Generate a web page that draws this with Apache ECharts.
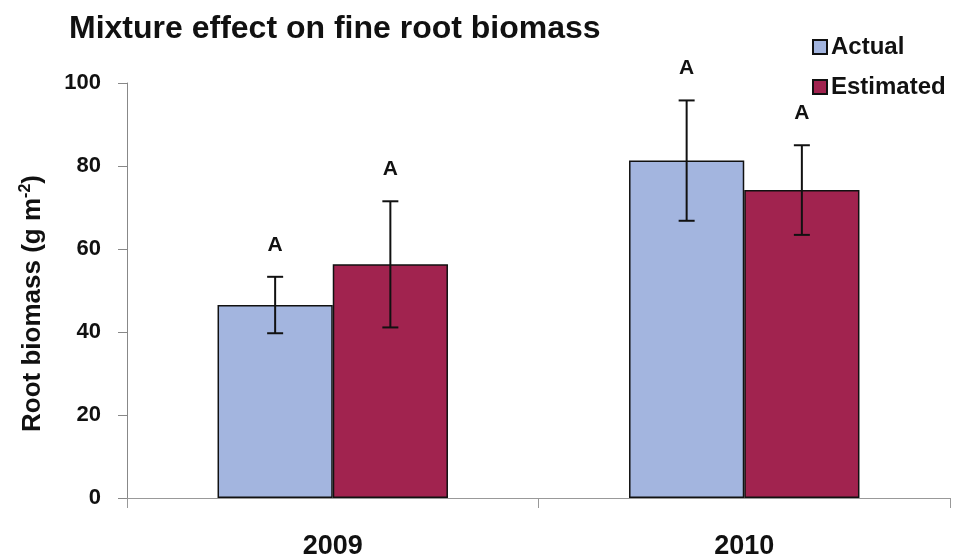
<!DOCTYPE html>
<html>
<head>
<meta charset="utf-8">
<script src="https://cdn.jsdelivr.net/npm/echarts@6/dist/echarts.min.js"></script>
<style>
  html, body { margin: 0; padding: 0; background: #fff; }
  #chart { width: 959px; height: 560px; }
</style>
</head>
<body>
<div id="chart"></div>
<script>
// Fine root biomass, actual vs. estimated, by year
const years = ['2009', '2010'];
const actual = [46.5, 81.3];
const estimated = [56.3, 74.2];
// standard errors
const actualErr = [6.8, 14.5];
const estimatedErr = [15.2, 10.8];
// significance letters
const actualLetters = ['A', 'A'];
const estimatedLetters = ['A', 'A'];
const yTicks = [0, 20, 40, 60, 80, 100];

const FONT = '"Liberation Sans", Arial, Helvetica, sans-serif';
const BAR_W = 0.28;

// one row per bar: [category, low, high, bar slot (0 left / 1 right), letter]
const errRows = [];
years.forEach((y, i) => {
  errRows.push([i, actual[i] - actualErr[i], actual[i] + actualErr[i], 0, actualLetters[i]]);
  errRows.push([i, estimated[i] - estimatedErr[i], estimated[i] + estimatedErr[i], 1, estimatedLetters[i]]);
});

function renderErr(params, api) {
  const cat = api.value(0);
  const slot = api.value(3);
  const band = api.size([1, 0])[0];
  const bw = band * BAR_W;
  const center = api.coord([cat, 0])[0];
  const x = center + (slot === 0 ? -bw / 2 : bw / 2);
  const lo = api.coord([cat, api.value(1)])[1];
  const hi = api.coord([cat, api.value(2)])[1];
  const cap = 8;
  const st = { stroke: '#111', lineWidth: 2 };
  return {
    type: 'group',
    children: [
      { type: 'line', shape: { x1: x, y1: lo, x2: x, y2: hi }, style: st },
      { type: 'line', shape: { x1: x - cap, y1: hi, x2: x + cap, y2: hi }, style: st },
      { type: 'line', shape: { x1: x - cap, y1: lo, x2: x + cap, y2: lo }, style: st },
      { type: 'text', style: {
          text: errRows[params.dataIndex][4], x: x, y: hi - 32,
          align: 'center', verticalAlign: 'middle',
          font: 'bold 21px ' + FONT, fill: '#111' } }
    ]
  };
}

const chart = echarts.init(document.getElementById('chart'));
chart.setOption({
  animation: false,
  backgroundColor: '#fff',
  title: {
    text: 'Mixture effect on fine root biomass',
    left: 64, top: 8,
    textStyle: { fontFamily: FONT, fontSize: 32, fontWeight: 'bold', color: '#111' }
  },
  legend: {
    orient: 'vertical',
    left: 807, top: 30,
    icon: 'rect',
    itemWidth: 14, itemHeight: 14, itemGap: 16,
    data: ['Actual', 'Estimated'],
    textStyle: { fontFamily: FONT, fontSize: 24, fontWeight: 'bold', color: '#111', padding: [0, 0, 0, -1] }
  },
  grid: { left: 127, right: 9, top: 83, bottom: 58 },
  xAxis: {
    type: 'category',
    data: years,
    axisLine: { lineStyle: { color: '#999', width: 1 } },
    axisTick: { show: true, length: 10, lineStyle: { color: '#999' } },
    axisLabel: { fontFamily: FONT, fontSize: 27, fontWeight: 'bold', color: '#111', margin: 35 }
  },
  yAxis: {
    type: 'value',
    min: yTicks[0], max: yTicks[yTicks.length - 1], interval: yTicks[1] - yTicks[0],
    name: '{a|Root biomass (g m}{s|-2}{a|)}',
    nameLocation: 'middle', nameGap: 80,
    nameTextStyle: {
      padding: [0, 26, 0, 0],
      rich: {
        a: { fontFamily: FONT, fontSize: 26, fontWeight: 'bold', color: '#111' },
        s: { fontFamily: FONT, fontSize: 16, fontWeight: 'bold', color: '#111', verticalAlign: 'top', padding: [0, 0, 13, 0] }
      }
    },
    axisLine: { show: true, lineStyle: { color: '#888', width: 1 } },
    axisTick: { show: true, length: 9, lineStyle: { color: '#888' } },
    splitLine: { show: false },
    axisLabel: { fontFamily: FONT, fontSize: 22, fontWeight: 'bold', color: '#111', margin: 26 }
  },
  series: [
    {
      name: 'Actual', type: 'bar', data: actual,
      barWidth: (BAR_W * 100) + '%', barGap: '0%',
      itemStyle: { color: '#a3b5df', borderColor: '#111', borderWidth: 1.5 }
    },
    {
      name: 'Estimated', type: 'bar', data: estimated,
      barWidth: (BAR_W * 100) + '%', barGap: '0%',
      itemStyle: { color: '#a1234f', borderColor: '#111', borderWidth: 1.5 }
    },
    {
      type: 'custom', renderItem: renderErr, data: errRows,
      encode: { x: 0, y: [1, 2] }, z: 10, silent: true
    }
  ]
});
</script>
</body>
</html>
